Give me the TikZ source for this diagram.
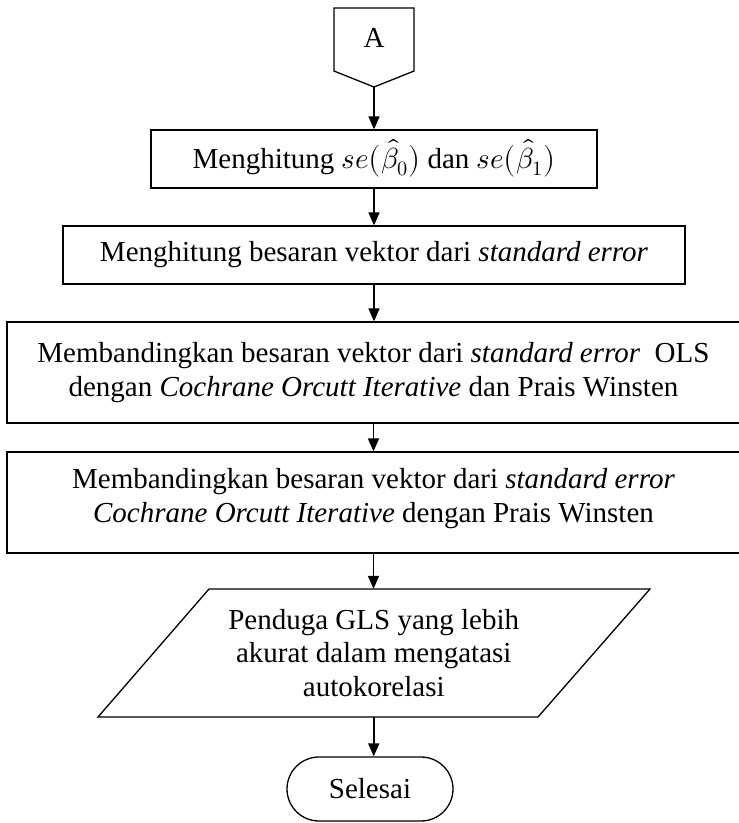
\documentclass[tikz,border=0pt]{standalone}
\usepackage{fontspec}
\usepackage{unicode-math}
\setmainfont{Liberation Serif}
\setmathfont{Latin Modern Math}
\usetikzlibrary{arrows.meta,shapes.misc}
\begin{document}
\begin{tikzpicture}[x=1pt,y=-1pt,
  box/.style={draw, line width=1.3pt, inner sep=0pt},
  lbl/.style={font=\fontsize{29}{33.5}\selectfont, align=center, inner sep=0pt},
  arr/.style={-{Triangle[width=11pt,length=13pt]}, line width=1.7pt}]
\useasboundingbox (0,0) rectangle (739,823);
% off-page connector A
\draw[line width=1.3pt] (334,8) -- (414,8) -- (414,71) -- (374,87) -- (334,71) -- cycle;
\node[minimum width=80pt, minimum height=79pt, inner sep=0pt] (conn) at (374,47.5) {};
\node[lbl] (A) at (374,38) {A};
% box 1
\node[box, lbl, minimum width=446pt, minimum height=58pt] (b1) at (374,159)
  {Menghitung $se\bigl(\hat{\beta}_0\bigr)$ dan $se\bigl(\hat{\beta}_1\bigr)$};
% box 2
\node[box, lbl, minimum width=622pt, minimum height=58pt] (b2) at (374,255)
  {Menghitung besaran vektor dari \textit{standard error}};
% box 3
\node[box, lbl, minimum width=733pt, minimum height=101pt] (b3) at (373.5,372.5)
  {Membandingkan besaran vektor dari \textit{standard error}\ \ OLS\\
   dengan \textit{Cochrane Orcutt Iterative} dan Prais Winsten};
% box 4
\node[box, minimum width=733pt, minimum height=101pt] (b4) at (373.5,502.5) {};
\node[lbl] (t4) at (373.5,498.5)
  {Membandingkan besaran vektor dari \textit{standard error}\\
   \textit{Cochrane Orcutt Iterative} dengan Prais Winsten};
% parallelogram
\draw[line width=1.3pt] (209,589) -- (650,589) -- (538,717) -- (98,717) -- cycle;
\node[minimum width=330pt, minimum height=128pt, inner sep=0pt] (para) at (373.75,653) {};
\node[lbl] (pt) at (373.75,653)
  {Penduga GLS yang lebih\\akurat dalam mengatasi\\autokorelasi};
% terminal
\node[draw, line width=1.3pt, rounded rectangle, lbl, minimum width=166pt, minimum height=64pt] (end) at (370,789) {Selesai};
% arrows
\draw[arr] (conn.south) -- (b1.north);
\draw[arr] (b1.south) -- (b1.south |- b2.north);
\draw[arr] (b2.south) -- (b2.south |- b3.north);
\draw[arr] (b3.south) -- (b3.south |- b4.north);
\draw[arr] (b4.south) -- (b4.south |- para.north);
\draw[arr] (para.south) -- (para.south |- end.north);
\end{tikzpicture}
\end{document}
